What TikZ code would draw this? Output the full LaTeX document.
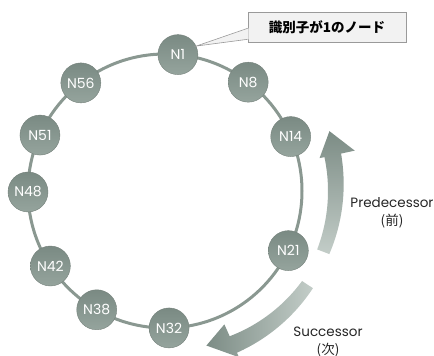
\documentclass[tikz,border=0pt]{standalone}
\usepackage{fontspec}
\setmainfont{Poppins}
\newfontfamily\jp{Noto Sans CJK JP}
\usetikzlibrary{calc}

\definecolor{ringc}{HTML}{8A9891}
\definecolor{nodetop}{HTML}{7A8A83}
\definecolor{nodebot}{HTML}{95A49D}
\definecolor{arrdark}{HTML}{7C8C85}
\definecolor{arrlight}{HTML}{C3CDC8}
\definecolor{boxfill}{HTML}{F2F2F2}
\definecolor{boxline}{HTML}{9A9A9A}

\begin{document}
\begin{tikzpicture}[x=1pt,y=1pt,
  chordnode/.style={circle, minimum size=40pt, inner sep=0pt,
    top color=nodetop, bottom color=nodebot, draw=ringc!85!black,
    line width=0.4pt, text=white, font=\fontsize{14}{14}\selectfont},
  ringline/.style={draw=ringc, line width=3pt},
  calloutbox/.style={fill=boxfill, draw=boxline, line width=0.6pt,
    minimum width=158pt, minimum height=30pt, inner sep=0pt,
    font=\jp\bfseries\fontsize{13.5}{14}\selectfont},
  lbl/.style={align=center, text=black!85, inner sep=0pt,
    font=\fontsize{13.5}{18}\selectfont}]
\useasboundingbox (0,0) rectangle (434,356);
\coordinate (c) at (165,165);

% ring
\draw[ringline] (c) circle[radius=137pt];

% predecessor arrow
\shade[top color=arrdark, bottom color=arrlight]
  plot[domain=-21:12, samples=30, variable=\t] ({165+163*cos(\t)},{165+163*sin(\t)})
  -- ($(c)+(12:158pt)$) -- ($(c)+(20:175pt)$) -- ($(c)+(12:194pt)$)
  -- plot[domain=12:-21, samples=30, variable=\t]
     ({165+(176+4*(\t+21)/33)*cos(\t)},{165+(176+4*(\t+21)/33)*sin(\t)})
  -- cycle;

% successor arrow
\shade[left color=arrdark, right color=arrlight]
  plot[domain=-33.3:-66, samples=30, variable=\t]
     ({165+(164-5*(-33.3-\t)/32.7)*cos(\t)},{165+(164-5*(-33.3-\t)/32.7)*sin(\t)})
  -- ($(c)+(-66:146pt)$) -- ($(c)+(-75:160pt)$) -- ($(c)+(-66:182pt)$)
  -- plot[domain=-66:-33.3, samples=30, variable=\t] ({165+177*cos(\t)},{165+177*sin(\t)})
  -- cycle;

% nodes
\foreach \n/\a in {N1/84.6, N8/52.6, N14/23.4, N21/-25.8, N32/-88.3,
                   N38/-119.9, N42/-146.8, N48/180.4, N51/155.9, N56/127.9}
  \node[chordnode] (\n) at ($(c)+(\a:137pt)$) {\n};

% callout
\node[calloutbox] (note) at (327,329) {識別子が1のノード};
\fill[boxfill] ($(note.south west)+(1,3)$) -- (N1.25) -- ($(note.south west)+(1,14)$) -- cycle;
\draw[boxline, line width=0.6pt] ($(note.south west)+(0,3)$) -- (N1.25) -- ($(note.south west)+(0,14)$);

% labels
\node[lbl] (pred) at (392,143) {Predecessor\\{\jp(前)}};
\node[lbl] (succ) at (328,14) {Successor\\{\jp(次)}};
\end{tikzpicture}
\end{document}
